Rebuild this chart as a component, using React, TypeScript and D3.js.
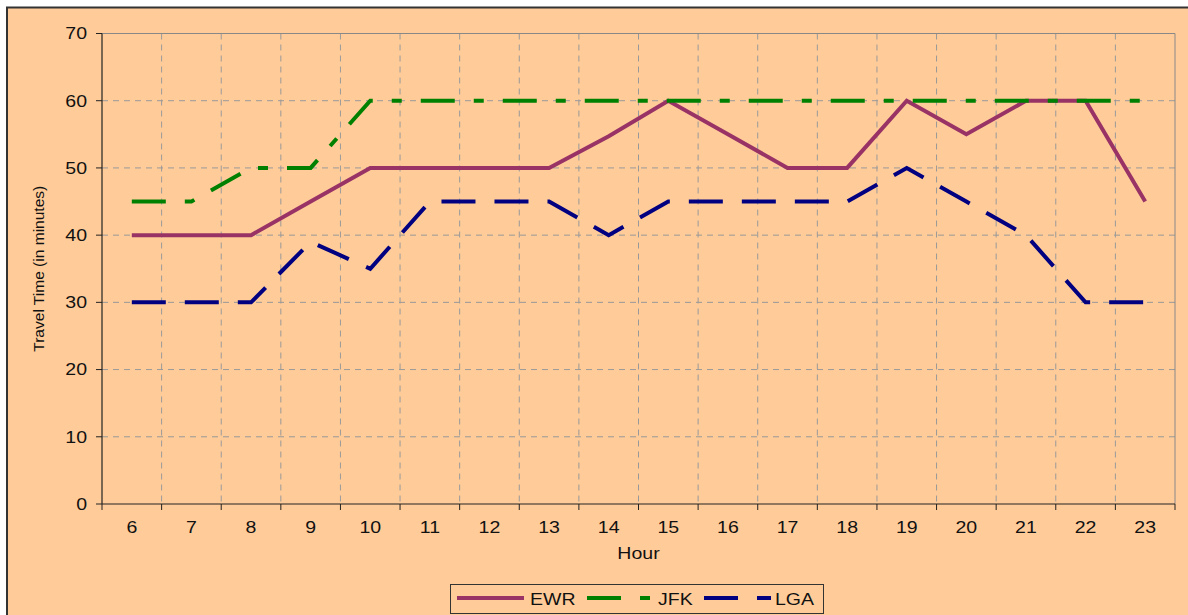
import React from "react";
import * as d3 from "d3";

const hours = ["6","7","8","9","10","11","12","13","14","15","16","17","18","19","20","21","22","23"];
const ewr = [40,40,40,45,50,50,50,50,54.7,60,55,50,50,60,55,60,60,45];
const jfk = [45,45,50,50,60,60,60,60,60,60,60,60,60,60,60,60,60,60];
const lga = [30,30,30,39,35,45,45,45,40,45,45,45,45,50,45,40,30,30];
const yTicks = [0,10,20,30,40,50,60,70];

const W = 1188, H = 615;
const M = { left: 102, top: 33.5, right: 1175, bottom: 504 };
const BG = "#FFCC99";
const FONT = "'Liberation Sans', Arial, sans-serif";
const SX = 1.22;

const series = [
  { name: "EWR", values: ewr, color: "#993366", dash: "" },
  { name: "JFK", values: jfk, color: "#008000", dash: "34,19,10,19" },
  { name: "LGA", values: lga, color: "#000080", dash: "34,19" },
];

export default function App() {
  const x = d3.scaleBand<string>().domain(hours).range([M.left, M.right]).paddingInner(0).paddingOuter(0);
  const y = d3.scaleLinear().domain([0, 70]).range([M.bottom, M.top]);
  const cx = (h: string) => (x(h) as number) + x.bandwidth() / 2;
  const line = d3.line<number>().x((_, i) => cx(hours[i])).y((d) => y(d));
  const boundaries = hours.map((h) => x(h) as number).concat([M.right]);

  const legendItems = [
    { s: series[0], lx: 457, tx: 530 },
    { s: series[1], lx: 587, tx: 658 },
    { s: series[2], lx: 704, tx: 775 },
  ];

  return (
    <svg width={W} height={H} style={{ position: "absolute", left: 0, top: 0 }} fontFamily={FONT}>
      <rect x={0} y={0} width={W} height={H} fill="#fff" />
      <rect x={7} y={7.5} width={1300} height={700} fill={BG} stroke="#333" strokeWidth={2} />
      {/* grid */}
      {yTicks.filter((t) => t > 0 && t < 70).map((t) => (
        <line key={"gy" + t} x1={M.left} x2={M.right} y1={y(t)} y2={y(t)} stroke="#999" strokeWidth={1} strokeDasharray="6,5" />
      ))}
      {boundaries.slice(1, -1).map((bx, i) => (
        <line key={"gx" + i} x1={bx} x2={bx} y1={M.top} y2={M.bottom} stroke="#999" strokeWidth={1} strokeDasharray="6,5" />
      ))}
      {/* frame */}
      <line x1={M.left} x2={M.right} y1={M.top} y2={M.top} stroke="#888" strokeWidth={1} />
      <line x1={M.right} x2={M.right} y1={M.top} y2={M.bottom} stroke="#888" strokeWidth={1} />
      <line x1={M.left} x2={M.left} y1={M.top} y2={M.bottom} stroke="#222" strokeWidth={1.2} />
      <line x1={M.left} x2={M.right} y1={M.bottom} y2={M.bottom} stroke="#222" strokeWidth={1.2} />
      {/* y ticks */}
      {yTicks.map((t) => (
        <g key={"yt" + t}>
          <line x1={M.left - 6} x2={M.left} y1={y(t)} y2={y(t)} stroke="#222" />
          <text transform={`translate(87,${y(t) + 5.8}) scale(${SX},1)`} textAnchor="end" fontSize={16} fill="#111">{t}</text>
        </g>
      ))}
      {/* x ticks */}
      {boundaries.map((bx, i) => (
        <line key={"xt" + i} x1={bx} x2={bx} y1={M.bottom} y2={M.bottom + 6} stroke="#222" />
      ))}
      {hours.map((h) => (
        <text key={"xl" + h} transform={`translate(${cx(h)},533) scale(${SX},1)`} textAnchor="middle" fontSize={16} fill="#111">{h}</text>
      ))}
      <text transform={`translate(${(M.left + M.right) / 2},559) scale(${SX},1)`} textAnchor="middle" fontSize={16} fill="#111">Hour</text>
      <text transform={`translate(44,${(M.top + M.bottom) / 2}) rotate(-90)`} textAnchor="middle" fontSize={15} fill="#111" textLength={166} lengthAdjust="spacingAndGlyphs">Travel Time (in minutes)</text>
      {/* series */}
      {series.map((s) => (
        <path key={s.name} d={line(s.values) as string} fill="none" stroke={s.color} strokeWidth={4} strokeDasharray={s.dash || undefined} strokeLinejoin="miter" />
      ))}
      {/* legend */}
      <rect x={450.5} y={584.5} width={373} height={29} fill={BG} stroke="#333" strokeWidth={1} />
      {legendItems.map(({ s, lx, tx }) => (
        <g key={"lg" + s.name}>
          <line x1={lx} x2={lx + 67} y1={598} y2={598} stroke={s.color} strokeWidth={4} strokeDasharray={s.dash || undefined} />
          <text transform={`translate(${tx},604.5) scale(${SX},1)`} fontSize={16} fill="#111">{s.name}</text>
        </g>
      ))}
    </svg>
  );
}
